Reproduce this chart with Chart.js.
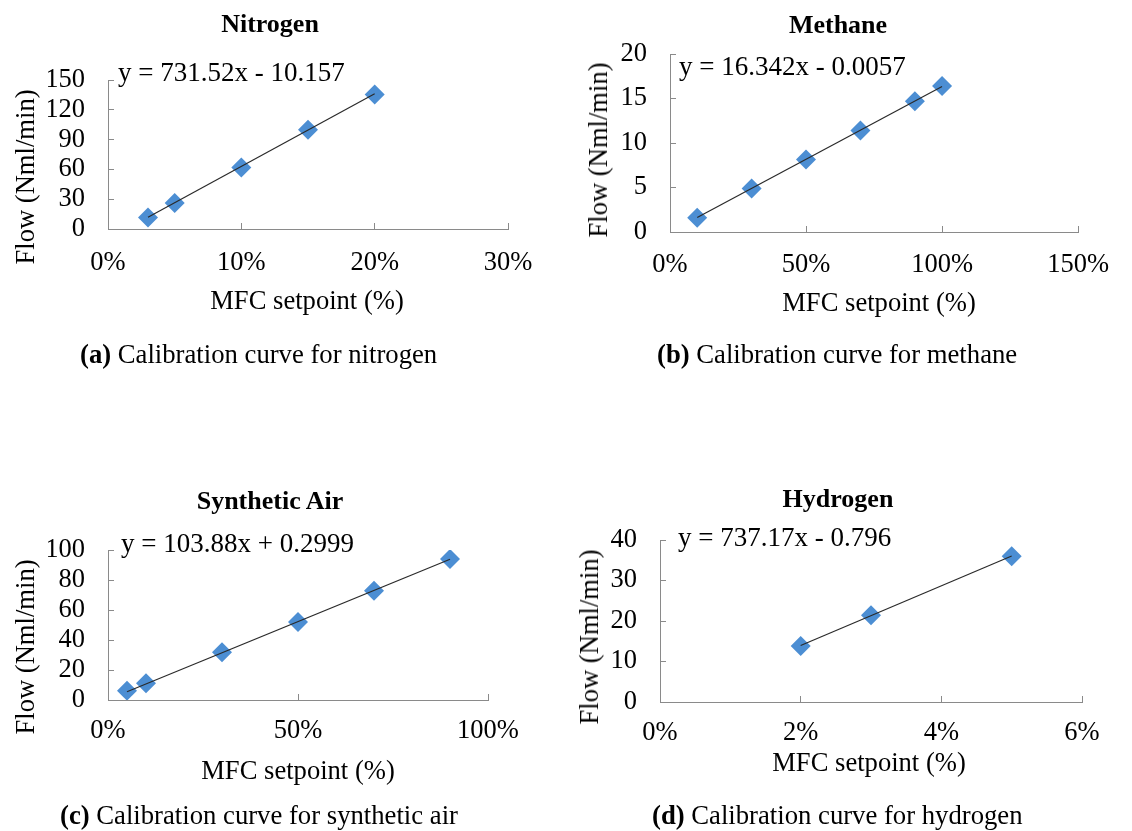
<!DOCTYPE html>
<html>
<head>
<meta charset="utf-8">
<script src="https://cdn.jsdelivr.net/npm/chart.js@4.4.0/dist/chart.umd.min.js"></script>
<style>
body { margin: 0; background: #fff; }
#page { position: relative; width: 1132px; height: 831px; overflow: hidden; font-family: "Liberation Serif", "Times New Roman", serif; color: #000; }
#page canvas { position: absolute; left: 0; top: 0; }
.txt { position: absolute; font-size: 26px; line-height: 26px; white-space: nowrap; }
.mid { transform: translate(-50%, -50%); }
.lft { transform: translate(0, -50%); }
.rot { transform: translate(-50%, -50%) rotate(-90deg); }
.bold { font-weight: bold; }
.eq { font-size: 27px; }
.ax { font-size: 26.6px; }
.cap { font-size: 26.7px; }
</style>
</head>
<body>
<div id="page">
  <canvas id="c0" width="1132" height="831"></canvas>
  <canvas id="c1" width="1132" height="831"></canvas>
  <canvas id="c2" width="1132" height="831"></canvas>
  <canvas id="c3" width="1132" height="831"></canvas>
</div>
<script>
// ---- data ----
// (a) nitrogen
var n2X = [3, 5, 10, 15, 20]
var n2Y = [11.5, 26.2, 62, 99.8, 135.5]
var n2TrendX = [3, 20]
var n2TrendY = [11.8, 136.1]
var n2XTicks = [0, 10, 20, 30]
var n2YTicks = [0, 30, 60, 90, 120, 150]

// (b) methane
var ch4X = [10, 30, 50, 70, 90, 100]
var ch4Y = [1.6, 4.9, 8.15, 11.4, 14.7, 16.4]
var ch4TrendX = [10, 100]
var ch4TrendY = [1.63, 16.34]
var ch4XTicks = [0, 50, 100, 150]
var ch4YTicks = [0, 5, 10, 15, 20]

// (c) synthetic air
var airX = [5, 10, 30, 50, 70, 90]
var airY = [6.2, 11.2, 31.8, 52, 72.8, 94]
var airTrendX = [5, 90]
var airTrendY = [5.5, 93.8]
var airXTicks = [0, 50, 100]
var airYTicks = [0, 20, 40, 60, 80, 100]

// (d) hydrogen
var h2X = [2, 3, 5]
var h2Y = [13.8, 21.4, 36]
var h2TrendX = [2, 5]
var h2TrendY = [13.95, 36.06]
var h2XTicks = [0, 2, 4, 6]
var h2YTicks = [0, 10, 20, 30, 40]

var titles = ['Nitrogen', 'Methane', 'Synthetic Air', 'Hydrogen']
var equations = ['y = 731.52x - 10.157', 'y = 16.342x - 0.0057', 'y = 103.88x + 0.2999', 'y = 737.17x - 0.796']
var captionTags = ['(a)', '(b)', '(c)', '(d)']
var captionTexts = [' Calibration curve for nitrogen', ' Calibration curve for methane', ' Calibration curve for synthetic air', ' Calibration curve for hydrogen']
var xTitle = 'MFC setpoint (%)'
var yTitle = 'Flow (Nml/min)'

// ---- layout (pixel boxes of each plot area and its texts) ----
var boxes = [
  {left: 108, right: 508, top: 80, bottom: 229, xpad: 24},
  {left: 670, right: 1091, top: 54, bottom: 232, xpad: 23},
  {left: 108, right: 488, top: 550, bottom: 700, xpad: 21.5},
  {left: 660, right: 1082, top: 540, bottom: 702, xpad: 21}
]
var spots = [
  {title: [270, 23.5], eq: [118, 71.5], xt: [307, 300], yt: [25, 177], cap: [80, 354]},
  {title: [838, 25], eq: [679, 66], xt: [879, 301.5], yt: [598, 150], cap: [657, 353.5]},
  {title: [270, 501], eq: [121, 543], xt: [298, 770], yt: [25, 647], cap: [60, 815]},
  {title: [838, 499], eq: [678, 536.5], xt: [869, 762], yt: [589, 637], cap: [652, 815]}
]

var BLUE = '#4c8ed3'
var AXIS = '#8a8a8a'
var FONT = {family: '"Liberation Serif", "Times New Roman", serif', size: 26.5}
var Y_W = 60, X_H = 50

function pts(xs, ys) {
  return xs.map(function (x, i) { return {x: x, y: ys[i]} })
}

function panel(id, box, xs, ys, tx, ty, xTicks, yTicks) {
  var ctx = document.getElementById(id).getContext('2d')
  return new Chart(ctx, {
    type: 'scatter',
    data: {
      datasets: [{
        // trendline sits on top of the markers
        data: pts(tx, ty),
        showLine: true,
        borderColor: '#2a2a2a',
        borderWidth: 1.2,
        pointRadius: 0
      }, {
        data: pts(xs, ys),
        pointStyle: 'rectRot',
        pointRadius: 10,
        backgroundColor: BLUE,
        borderColor: BLUE,
        borderWidth: 0
      }]
    },
    options: {
      responsive: false,
      animation: false,
      events: [],
      layout: {
        padding: {left: box.left - Y_W, top: box.top, right: 1132 - box.right, bottom: 831 - box.bottom - X_H}
      },
      plugins: {legend: {display: false}, tooltip: {enabled: false}},
      scales: {
        x: {
          type: 'linear',
          min: xTicks[0],
          max: xTicks[xTicks.length - 1],
          afterBuildTicks: function (s) { s.ticks = xTicks.map(function (v) { return {value: v} }) },
          afterFit: function (s) { s.height = X_H },
          ticks: {font: FONT, color: '#000', padding: box.xpad, maxRotation: 0, autoSkip: false,
            callback: function (v) { return v + '%' }},
          grid: {drawOnChartArea: false, drawTicks: true, tickLength: -6, color: AXIS},
          border: {color: AXIS, width: 1}
        },
        y: {
          type: 'linear',
          min: yTicks[0],
          max: yTicks[yTicks.length - 1],
          afterBuildTicks: function (s) { s.ticks = yTicks.map(function (v) { return {value: v} }) },
          afterFit: function (s) { s.width = Y_W },
          ticks: {font: FONT, color: '#000', padding: 29, autoSkip: false},
          grid: {drawOnChartArea: false, drawTicks: true, tickLength: -6, color: AXIS},
          border: {color: AXIS, width: 1}
        }
      }
    }
  })
}

panel('c0', boxes[0], n2X, n2Y, n2TrendX, n2TrendY, n2XTicks, n2YTicks)
panel('c1', boxes[1], ch4X, ch4Y, ch4TrendX, ch4TrendY, ch4XTicks, ch4YTicks)
panel('c2', boxes[2], airX, airY, airTrendX, airTrendY, airXTicks, airYTicks)
panel('c3', boxes[3], h2X, h2Y, h2TrendX, h2TrendY, h2XTicks, h2YTicks)

// ---- texts ----
var page = document.getElementById('page')
function addText(cls, xy, html) {
  var d = document.createElement('div')
  d.className = 'txt ' + cls
  d.style.left = xy[0] + 'px'
  d.style.top = xy[1] + 'px'
  d.innerHTML = html
  page.appendChild(d)
}
for (var i = 0; i < 4; i++) {
  var s = spots[i]
  addText('mid bold', s.title, titles[i])
  addText('lft eq', s.eq, equations[i])
  addText('mid ax', s.xt, xTitle)
  addText('rot ax', s.yt, yTitle)
  addText('lft cap', s.cap, '<b>' + captionTags[i] + '</b>' + captionTexts[i])
}
</script>
</body>
</html>
